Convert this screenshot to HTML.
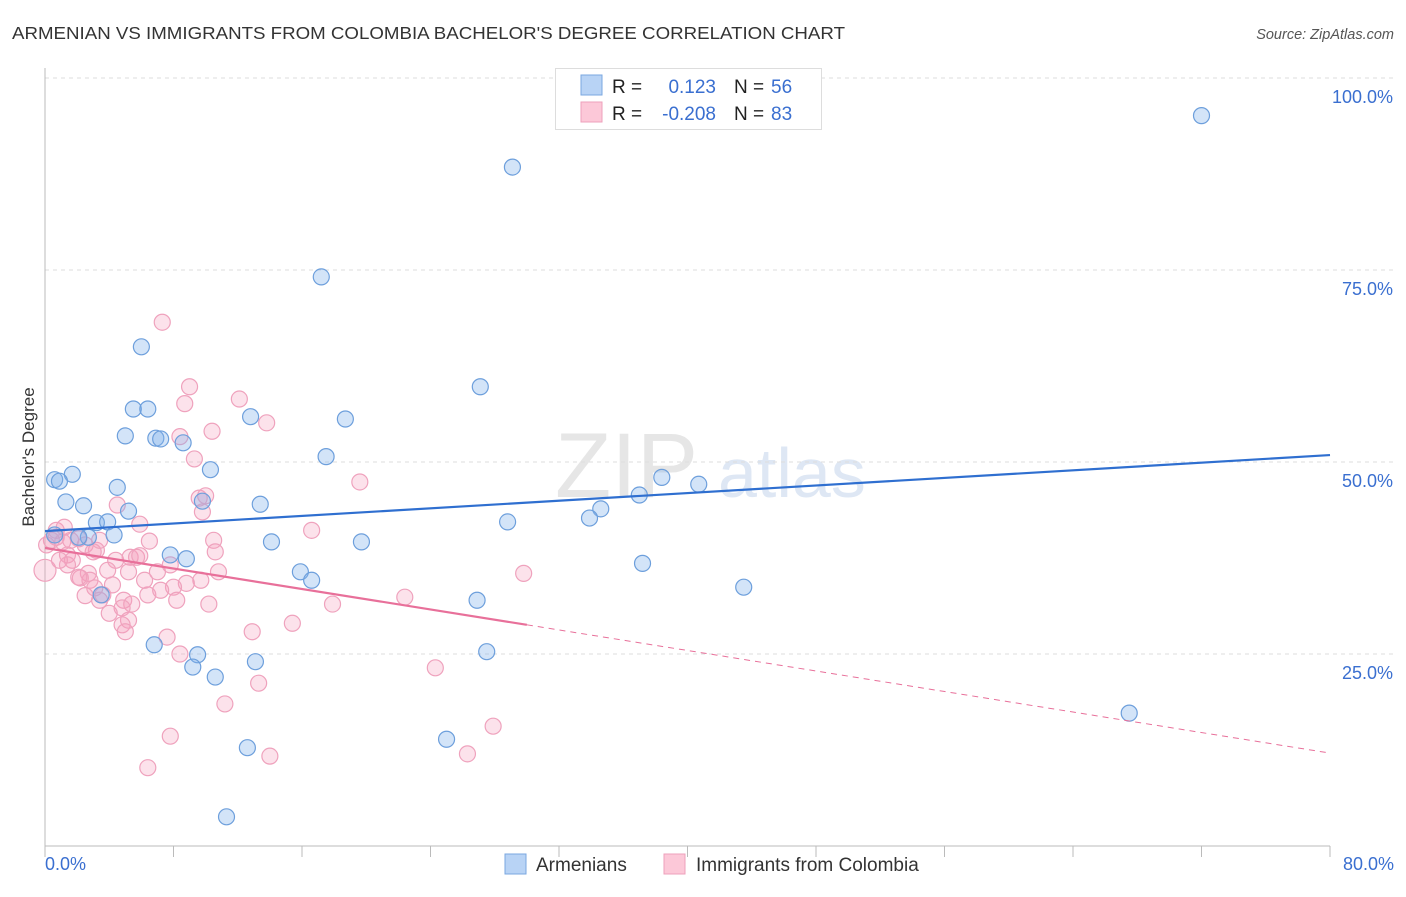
<!DOCTYPE html>
<html><head><meta charset="utf-8"><style>
body{margin:0;background:#fff;font-family:"Liberation Sans",sans-serif}
svg text{font-family:"Liberation Sans",sans-serif}
</style></head><body>
<svg id="chart" width="1406" height="892">
<text x="12" y="39" font-size="17.5" fill="#333" textLength="833" lengthAdjust="spacingAndGlyphs">ARMENIAN VS IMMIGRANTS FROM COLOMBIA BACHELOR'S DEGREE CORRELATION CHART</text>
<text x="1394" y="39" font-size="14.5" fill="#555" font-style="italic" text-anchor="end">Source: ZipAtlas.com</text>
<text x="34" y="457" font-size="17" fill="#333" text-anchor="middle" transform="rotate(-90 34 457)">Bachelor's Degree</text>
<text x="555" y="497" font-size="92" fill="#d6d6d6" font-family="Liberation Serif" opacity="0.6">ZIP</text>
<text x="718" y="497" font-size="70" fill="#c9d8ee" opacity="0.6">atlas</text>
<g id="grid"></g><g id="axes"></g><g id="pts"></g><g id="trends"></g>
<g>
<rect x="555.5" y="68.5" width="266" height="61" fill="#fff" stroke="#ddd"/>
<rect x="581" y="75" width="21" height="20" fill="#b8d3f5" stroke="#7aa7e0"/>
<rect x="581" y="102" width="21" height="20" fill="#fcc8d8" stroke="#eea0bb"/>
<text x="612" y="93" font-size="19" fill="#222">R =</text><text x="716" y="93" font-size="19" fill="#3a6fd0" text-anchor="end">0.123</text>
<text x="734" y="93" font-size="19" fill="#222">N =</text><text x="771" y="93" font-size="19" fill="#3a6fd0">56</text>
<text x="612" y="120" font-size="19" fill="#222">R =</text><text x="716" y="120" font-size="19" fill="#3a6fd0" text-anchor="end">-0.208</text>
<text x="734" y="120" font-size="19" fill="#222">N =</text><text x="771" y="120" font-size="19" fill="#3a6fd0">83</text>
</g>
<g>
<rect x="505" y="854" width="21" height="20" fill="#b8d3f5" stroke="#7aa7e0"/>
<text x="536" y="871" font-size="19" fill="#333">Armenians</text>
<rect x="664" y="854" width="21" height="20" fill="#fcc8d8" stroke="#eea0bb"/>
<text x="696" y="871" font-size="19" fill="#333">Immigrants from Colombia</text>
</g>
</svg>
<script>
const yTicks=[25,50,75,100];
const yTickLabels=["25.0%","50.0%","75.0%","100.0%"];
const xLabels=["0.0%","80.0%"];
const blueX=[72.0,29.1,17.2,6.0,27.1,5.5,6.4,12.8,18.7,5.0,6.9,7.2,8.6,17.5,10.3,1.7,0.6,0.9,4.5,1.3,2.4,13.4,9.8,5.2,38.4,40.7,37.0,34.6,33.9,28.8,3.2,3.9,4.3,2.7,2.1,0.6,14.1,19.7,7.8,8.8,37.2,15.9,16.6,43.5,3.5,26.9,6.8,9.5,27.5,13.1,9.2,10.6,67.5,25.0,12.6,11.3];
const blueY=[95.1,88.4,74.1,65.0,59.8,56.9,56.9,55.9,55.6,53.4,53.1,53.0,52.5,50.7,49.0,48.4,47.7,47.5,46.7,44.8,44.3,44.5,44.9,43.6,48.0,47.1,45.7,43.9,42.7,42.2,42.1,42.2,40.5,40.2,40.2,40.5,39.6,39.6,37.9,37.4,36.8,35.7,34.6,33.7,32.7,32.0,26.2,24.9,25.3,24.0,23.3,22.0,17.3,13.9,12.8,3.8];
const pinkX=[7.3,9.0,8.7,12.1,10.4,13.8,8.4,9.3,19.6,4.5,9.6,10.0,9.8,5.9,16.6,10.5,10.6,6.5,3.2,1.4,1.6,0.7,0.4,0.1,0.0,1.1,2.1,2.5,4.4,5.3,5.7,5.9,7.8,7.0,10.8,2.7,2.2,2.8,2.1,3.9,5.2,9.7,8.8,8.0,6.4,8.2,10.2,3.6,3.4,4.9,5.4,4.8,4.0,15.4,17.9,22.4,29.8,5.2,4.8,5.0,12.9,7.6,8.4,24.3,13.3,11.2,27.9,7.8,26.3,14.0,6.4,1.2,0.7,1.7,3.0,7.2,6.2,4.2,3.1,2.5,0.9,1.4,3.4];
const pinkY=[68.2,59.8,57.6,58.2,54.0,55.1,53.3,50.4,47.4,44.4,45.3,45.6,43.5,41.9,41.1,39.8,38.3,39.7,38.5,37.9,39.8,41.1,39.8,39.2,35.9,39.6,40.0,39.2,37.2,37.6,37.6,37.8,36.6,35.7,35.7,35.5,34.9,34.6,35.0,35.9,35.7,34.6,34.2,33.7,32.7,32.0,31.5,32.7,32.0,32.0,31.5,31.0,30.3,29.0,31.5,32.4,35.5,29.4,28.8,27.9,27.9,27.2,25.0,23.2,21.2,18.5,15.6,14.3,12.0,11.7,10.2,41.5,40.2,37.2,38.3,33.3,34.6,34.0,33.6,32.6,37.2,36.6,39.8];
const blueTrend=[41.0,50.9];
const pinkTrend=[38.8,28.8,12.1];
const pinkSolidEnd=30;
const X=v=>45+v/80*1285, Y=v=>846-v*7.68;
const NS="http://www.w3.org/2000/svg";
function mk(t,a,p){const e=document.createElementNS(NS,t);for(const k in a)e.setAttribute(k,a[k]);p.appendChild(e);return e;}
const grid=document.getElementById('grid'),axes=document.getElementById('axes'),pts=document.getElementById('pts'),tr=document.getElementById('trends');
yTicks.forEach((t,i)=>{
 const l=mk('line',{x1:45,x2:1393,y1:Y(t),y2:Y(t),stroke:'#ddd','stroke-dasharray':'4,4'},grid);
 
 
 const tx=mk('text',{x:1393,y:Y(t)+25,'font-size':18,fill:'#3a6fd0','text-anchor':'end'},axes);
 tx.textContent=yTickLabels[i];
 
 
});
let a=mk('line',{x1:45,x2:45,y1:68,y2:846,stroke:'#bbb'},axes);


a=mk('line',{x1:45,x2:1330,y1:846,y2:846,stroke:'#bbb'},axes);


for(let i=0;i<=10;i++){const t=mk('line',{x1:X(i*8),x2:X(i*8),y1:846,y2:857,stroke:'#bbb'},axes);
 
 }
[[0,45,'start'],[80,1394,'end']].forEach((d,i)=>{const t=mk('text',{x:d[1],y:870,'font-size':18,fill:'#3a6fd0','text-anchor':d[2]},axes);t.textContent=xLabels[i];
 
 });
function dots(xs,ys,fill,stroke,name){xs.forEach((x,i)=>{const c=mk('circle',{cx:X(x),cy:Y(ys[i]),r:(x===0?11:8),fill:fill,stroke:stroke,'stroke-width':1.2},pts);
 
 });}
dots(pinkX,pinkY,'rgba(246,160,190,0.3)','#efa2bd','colombia-point');
dots(blueX,blueY,'rgba(130,178,235,0.35)','#6d9fdc','armenian-point');
let l=mk('line',{x1:X(0),y1:Y(blueTrend[0]),x2:X(80),y2:Y(blueTrend[1]),stroke:'#2f6fd0','stroke-width':2.2},tr);


l=mk('line',{x1:X(0),y1:Y(pinkTrend[0]),x2:X(pinkSolidEnd),y2:Y(pinkTrend[1]),stroke:'#e8709a','stroke-width':2.2},tr);


l=mk('line',{x1:X(pinkSolidEnd),y1:Y(pinkTrend[1]),x2:X(80),y2:Y(pinkTrend[2]),stroke:'#e8709a','stroke-width':1,'stroke-dasharray':'6,5'},tr);


</script>
</body></html>
